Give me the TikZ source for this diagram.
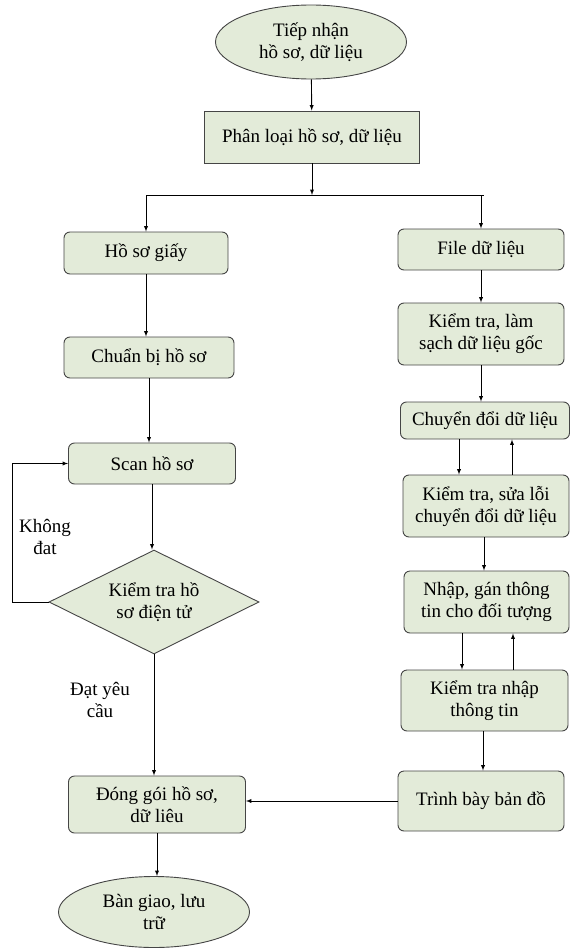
\documentclass[tikz,border=0pt]{standalone}
\usepackage{fontspec}
\setmainfont{Liberation Serif}
\usepackage{tikz}
\usetikzlibrary{shapes.geometric}

\definecolor{boxfill}{HTML}{E3EBD9}
\definecolor{boxline}{HTML}{454545}

\begin{document}
\begin{tikzpicture}[x=1pt,y=-1pt,>=latex,line width=0.9pt,
  font=\fontsize{19}{22}\selectfont,
  every node/.style={align=center,inner sep=0pt},
  stepbox/.style={draw=boxline,fill=boxfill,rounded corners=6pt},
  endbox/.style={draw=boxline,fill=boxfill,ellipse},
  testbox/.style={draw=boxline,fill=boxfill,diamond,aspect=2}]
\useasboundingbox (0,0) rectangle (570,950);

% Left column: paper records.
\node[endbox,minimum width=191pt,minimum height=74pt] (start) at (311,42) {Tiếp nhận\\hồ sơ, dữ liệu};
\node[draw=boxline,fill=boxfill,minimum width=215pt,minimum height=52pt] (phanloai) at (312,137) {Phân loại hồ sơ, dữ liệu};
\node[stepbox,minimum width=164pt,minimum height=42pt] (hosogiay) at (146,253) {Hồ sơ giấy};
\node[stepbox,minimum width=170pt,minimum height=41pt] (chuanbi) at (149,357.5) {Chuẩn bị hồ sơ};
\node[stepbox,minimum width=167pt,minimum height=41pt] (scan) at (152,463.5) {Scan hồ sơ};
\node[testbox,minimum width=210pt,minimum height=104pt] (kiemtra) at (154,602) {Kiểm tra hồ\\sơ điện tử};
\node[stepbox,minimum width=177pt,minimum height=57pt] (donggoi) at (157,804.5) {Đóng gói hồ sơ,\\dữ liêu};
\node[endbox,minimum width=191pt,minimum height=71pt] (bangiao) at (154,912) {Bàn giao, lưu\\trữ};

% Right column: data files.
\node[stepbox,minimum width=166pt,minimum height=41pt] (filedl) at (481,249.5) {File dữ liệu};
\node[stepbox,minimum width=166pt,minimum height=62pt] (lamsach) at (481,334) {Kiểm tra, làm\\sạch dữ liệu gốc};
\node[stepbox,minimum width=169pt,minimum height=37pt] (chuyendoi) at (485,420.5) {Chuyển đổi dữ liệu};
\node[stepbox,minimum width=166pt,minimum height=62pt] (sualoi) at (486,506) {Kiểm tra, sửa lỗi\\chuyển đổi dữ liệu};
\node[stepbox,minimum width=165pt,minimum height=62pt] (nhapgan) at (486.5,602) {Nhập, gán thông\\tin cho đối tượng};
\node[stepbox,minimum width=167pt,minimum height=61pt] (kiemtranhap) at (484.5,700.5) {Kiểm tra nhập\\thông tin};
\node[stepbox,minimum width=166pt,minimum height=60pt] (trinhbay) at (481,801) {Trình bày bản đồ};

% Labels on the test branches.
\node (khongdat) at (45,537) {Không\\đat};
\node (datyeucau) at (100,700) {Đạt yêu\\cầu};

% Split into the two branches.
\coordinate (split) at (312,195);
\coordinate (lsplit) at (147,195);
\coordinate (rsplit) at (484,195);
\coordinate (loopx) at (12,0);
\draw[->] (start) -- (phanloai);
\draw[->] (phanloai) -- (split);
\draw (lsplit) -- (rsplit);
\draw[->] (lsplit -| hosogiay) -- (hosogiay);
\draw[->] (rsplit -| filedl) -- (filedl);

% Left arrows.
\draw[->] (hosogiay.south) -- (hosogiay.south |- chuanbi.north);
\draw[->] (chuanbi.south) -- (chuanbi.south |- scan.north);
\draw[->] (scan.south) -- (scan.south |- kiemtra.north);
\draw[->] (kiemtra.west) -- (kiemtra.west -| loopx) |- (scan.west);
\draw[->] (kiemtra.south) -- (kiemtra.south |- donggoi.north);
\draw[->] (donggoi.south) -- (donggoi.south |- bangiao.north);

% Right arrows.
\draw[->] (filedl) -- (lamsach);
\draw[->] (lamsach) -- (lamsach |- chuyendoi.north);
\draw[->] ([xshift=-26pt]chuyendoi.south) -- ([xshift=-26pt]chuyendoi.south |- sualoi.north);
\draw[->] ([xshift=27pt]chuyendoi.south |- sualoi.north) -- ([xshift=27pt]chuyendoi.south);
\draw[->] ([xshift=-2pt]sualoi.south) -- ([xshift=-2pt]sualoi.south |- nhapgan.north);
\draw[->] ([xshift=-24.5pt]nhapgan.south) -- ([xshift=-24.5pt]nhapgan.south |- kiemtranhap.north);
\draw[->] ([xshift=26.5pt]nhapgan.south |- kiemtranhap.north) -- ([xshift=26.5pt]nhapgan.south);
\draw[->] ([xshift=-1.5pt]kiemtranhap.south) -- ([xshift=-1.5pt]kiemtranhap.south |- trinhbay.north);
\draw[->] (trinhbay.west) -- (trinhbay.west -| donggoi.east);
\end{tikzpicture}
\end{document}
